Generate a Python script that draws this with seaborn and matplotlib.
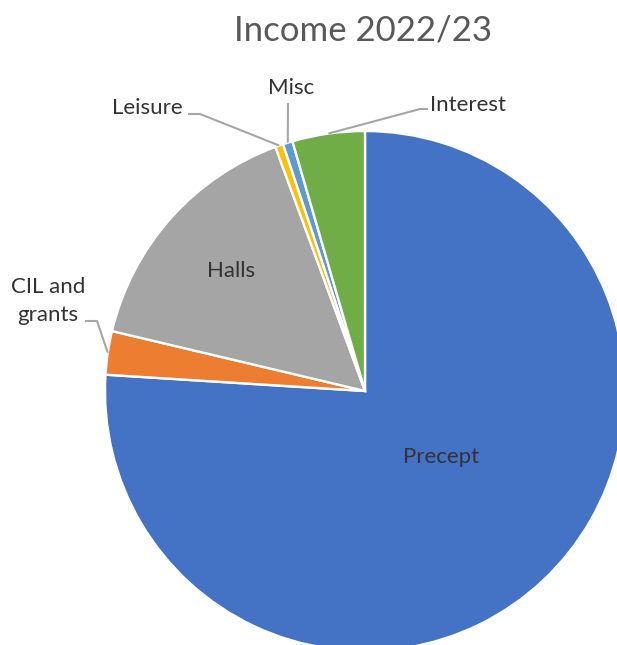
import numpy as np
import matplotlib
matplotlib.use("Agg")
import matplotlib.pyplot as plt
import seaborn as sns

# Datos (porcentaje de ingresos)
categorias = ["Precept", "CIL and\ngrants", "Halls", "Leisure", "Misc", "Interest"]
valores = [76.0, 2.7, 15.7, 0.5, 0.6, 4.5]
colores = ["#4472C4", "#ED7D31", "#A5A5A5", "#FFC000", "#5B9BD5", "#70AD47"]

sns.set_theme(style="white")
plt.rcParams['font.family'] = ['Lato', 'DejaVu Sans']

W, H = 617, 645
fig = plt.figure(figsize=(W / 100, H / 100), dpi=100)
ax = fig.add_axes([0, 0, 1, 1])

centro = (365, H - 391)
radio = 260
wedges, _ = ax.pie(valores, colors=sns.color_palette(colores), startangle=90, counterclock=False,
                   radius=radio, center=centro, explode=[0.016, 0, 0, 0, 0, 0],
                   wedgeprops=dict(edgecolor="white", linewidth=1.7))
ax.set_xlim(0, W)
ax.set_ylim(0, H)
ax.set_aspect("equal")
ax.axis("off")

color_txt = "#333333"
color_linea = "#A6A6A6"

# Etiquetas dentro
ax.text(441, H - 457, categorias[0], ha="center", va="center", fontsize=16, color=color_txt)
ax.text(231, H - 271, categorias[2], ha="center", va="center", fontsize=16, color=color_txt)

# Etiquetas fuera con lineas guia (texto, codo)
fuera = {
    1: ((48, 301), (85, 321), (97, 321)),
    3: ((147, 108), (188, 114), (200, 114)),
    4: ((291, 88), (288, 103), (288, 103)),
    5: ((468, 105), (428, 109), (420, 109)),
}
for i, (pos_txt, p1, p2) in fuera.items():
    w = wedges[i]
    ang = np.deg2rad((w.theta1 + w.theta2) / 2)
    xa = w.center[0] + w.r * np.cos(ang)
    ya = w.center[1] + w.r * np.sin(ang)
    ax.plot([p1[0], p2[0], xa], [H - p1[1], H - p2[1], ya], color=color_linea, lw=1.5,
            solid_capstyle="butt")
    ax.text(pos_txt[0], H - pos_txt[1], categorias[i], ha="center", va="center", fontsize=16,
            color=color_txt, linespacing=1.55)

fig.text(363 / W, 1 - 31 / H, "Income 2022/23", ha="center", va="center", fontsize=25,
         color="#595959")

fig.savefig("out.png", dpi=100)
